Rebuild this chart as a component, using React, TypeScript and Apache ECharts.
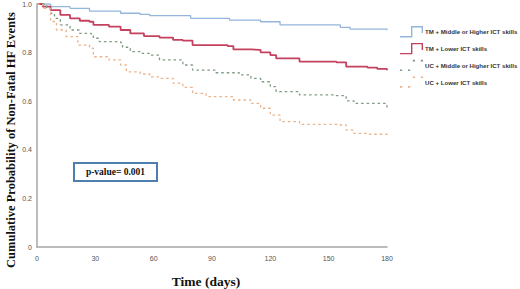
import React, { useEffect, useRef } from "react";
import * as echarts from "echarts";

const seriesNames = [
  "TM + Middle or Higher ICT skills",
  "TM + Lower ICT skills",
  "UC + Middle or Higher ICT skills",
  "UC + Lower ICT skills",
];

const tmHighDays = [0, 7, 17, 27, 43, 53, 58, 79, 99, 115, 125, 156, 161, 180];
const tmHighSurv = [1.0, 0.989, 0.982, 0.971, 0.962, 0.957, 0.952, 0.941, 0.934, 0.927, 0.914, 0.904, 0.897, 0.892];

const tmLowDays = [0, 3, 7, 12, 17, 22, 27, 29, 37, 43, 48, 55, 63, 70, 75, 80, 98, 101, 110, 115, 120, 123, 135, 154, 159, 170, 175, 180];
const tmLowSurv = [1.0, 0.989, 0.975, 0.955, 0.941, 0.931, 0.927, 0.914, 0.907, 0.893, 0.879, 0.868, 0.862, 0.852, 0.849, 0.831, 0.827, 0.813, 0.811, 0.801, 0.79, 0.776, 0.763, 0.76, 0.742, 0.738, 0.733, 0.727];

const ucHighDays = [0, 5, 7, 9, 12, 17, 22, 28, 29, 32, 43, 44, 48, 53, 58, 63, 75, 80, 92, 104, 110, 115, 120, 123, 135, 154, 159, 163, 180];
const ucHighSurv = [1.0, 0.982, 0.962, 0.941, 0.914, 0.893, 0.879, 0.872, 0.859, 0.845, 0.841, 0.822, 0.804, 0.797, 0.79, 0.77, 0.749, 0.728, 0.717, 0.708, 0.694, 0.68, 0.66, 0.639, 0.626, 0.623, 0.601, 0.591, 0.571];

const ucLowDays = [0, 3, 7, 10, 15, 21, 27, 29, 37, 43, 46, 53, 58, 63, 70, 75, 80, 87, 101, 110, 115, 120, 125, 135, 156, 159, 163, 171, 180];
const ucLowSurv = [1.0, 0.982, 0.928, 0.893, 0.866, 0.831, 0.818, 0.783, 0.77, 0.749, 0.721, 0.712, 0.7, 0.694, 0.674, 0.657, 0.632, 0.619, 0.605, 0.591, 0.571, 0.543, 0.516, 0.505, 0.502, 0.481, 0.468, 0.464, 0.45];

const xTicks = [0, 30, 60, 90, 120, 150, 180];
const yTicks = [0, 0.2, 0.4, 0.6, 0.8, 1.0];

const colors = ["#93b6da", "#c4415f", "#7f9a82", "#eab28a"];

const solidIcon =
  "path://M0,10 L11,10 L11,0 L23,0 L23,7 L21.6,7 L21.6,1.4 L12.4,1.4 L12.4,11.4 L0,11.4 Z";
const dotIcon =
  "path://M0,9.6 h2.2 v1.6 h-2.2 Z M8,9.6 h2.2 v1.6 h-2.2 Z M12.8,0 h2.2 v1.6 h-2.2 Z M20.8,0 h2.2 v1.6 h-2.2 Z";

function pairs(d: number[], s: number[]) {
  return d.map((v, i) => [v, s[i]]);
}

export default function App() {
  const ref = useRef<HTMLDivElement>(null);
  useEffect(() => {
    if (!ref.current) return;
    const chart = echarts.init(ref.current, null, { renderer: "svg" });
    const datas = [
      pairs(tmHighDays, tmHighSurv),
      pairs(tmLowDays, tmLowSurv),
      pairs(ucHighDays, ucHighSurv),
      pairs(ucLowDays, ucLowSurv),
    ];
    const widths = [1.3, 1.8, 1.3, 1.3];
    chart.setOption({
      animation: false,
      backgroundColor: "#ffffff",
      grid: { left: 37, right: 133, top: 4, bottom: 42, containLabel: false },
      xAxis: {
        type: "value",
        min: 0,
        max: 180,
        interval: 30,
        axisLine: { show: true, lineStyle: { color: "#a6a6a6", width: 1.5 } },
        axisTick: { show: false },
        splitLine: { show: false },
        axisLabel: { color: "#555", fontSize: 7, fontFamily: "Liberation Sans", margin: 8 },
      },
      yAxis: {
        type: "value",
        min: 0,
        max: 1,
        interval: 0.2,
        axisLine: { show: true, lineStyle: { color: "#a6a6a6", width: 1.5 } },
        axisTick: { show: false },
        splitLine: { show: false },
        axisLabel: {
          color: "#555",
          fontSize: 7,
          fontFamily: "Liberation Sans",
          margin: 5,
          formatter: (v: number) => (v === 0 ? "0" : v.toFixed(1)),
        },
      },
      legend: {
        orient: "vertical",
        left: 395,
        top: 21,
        padding: 5,
        itemWidth: 23,
        itemHeight: 12,
        itemGap: 5.5,
        textStyle: { fontSize: 6.1, fontWeight: "bold", color: "#333", fontFamily: "Liberation Sans", padding: [0, 0, 0, -3] },
        data: seriesNames.map((n, i) => ({
          name: n,
          icon: i < 2 ? solidIcon : dotIcon,
          itemStyle: { color: colors[i] },
        })),
      },
      series: seriesNames.map((n, i) => ({
        name: n,
        type: "line",
        step: "end",
        showSymbol: false,
        symbol: "none",
        color: colors[i],
        lineStyle: { color: colors[i], width: widths[i], type: i < 2 ? "solid" : [2.5, 3] },
        data: datas[i],
      })),
      graphic: [
        {
          type: "text",
          x: 11,
          y: 140,
          rotation: Math.PI / 2,
          style: {
            text: "Cumulative Probability of Non-Fatal HF Events",
            fontFamily: "Liberation Serif",
            fontWeight: "bold",
            fontSize: 12.5,
            fill: "#111",
            align: "center",
            verticalAlign: "middle",
          },
        },
        {
          type: "text",
          x: 206,
          y: 281,
          style: {
            text: "Time (days)",
            fontFamily: "Liberation Serif",
            fontWeight: "bold",
            fontSize: 13.5,
            fill: "#111",
            align: "center",
            verticalAlign: "middle",
          },
        },
        {
          type: "rect",
          shape: { x: 74, y: 163, width: 83, height: 18 },
          style: { fill: "#fff", stroke: "#4f7fae", lineWidth: 2 },
        },
        {
          type: "text",
          x: 115.5,
          y: 172,
          style: {
            text: "p-value= 0.001",
            fontFamily: "Liberation Serif",
            fontWeight: "bold",
            fontSize: 9.5,
            fill: "#111",
            align: "center",
            verticalAlign: "middle",
          },
        },
      ],
    });
    return () => chart.dispose();
  }, []);
  return (
    <div
      ref={ref}
      style={{ position: "fixed", left: 0, top: 0, width: 520, height: 289 }}
    />
  );
}
